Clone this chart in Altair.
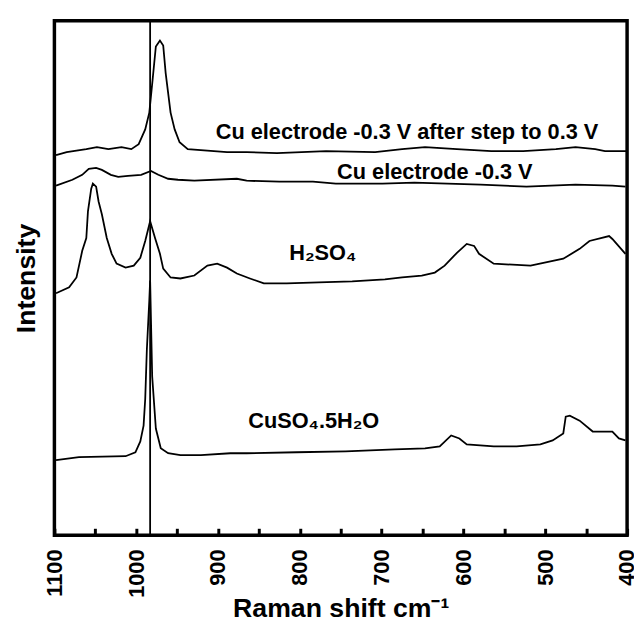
import altair as alt
import pandas as pd

# Raman shift (cm-1) and intensity (arbitrary units)
wn_step = [1098, 1085, 1061, 1048, 1034, 1018, 1006, 997, 989, 984, 980, 976, 971, 967, 964, 958, 953, 947, 937,
           889, 865, 828, 768, 708, 675, 647, 608, 566, 527, 487, 463, 439, 427, 400]
int_step = [370, 373, 376, 378, 376, 378, 376, 381, 396, 413, 446, 480, 486, 481, 453, 413, 396, 383, 376,
            373, 373, 372, 374, 373, 376, 378, 376, 374, 374, 376, 378, 376, 374, 374]

wn_cu = [1098, 1078, 1066, 1058, 1049, 1042, 1031, 1022, 1010, 994, 982, 973, 961, 949, 929, 877, 865, 825, 784,
         756, 699, 660, 579, 523, 463, 418, 402]
int_cu = [339, 345, 350, 356, 357, 355, 350, 348, 349, 350, 354, 350, 346, 345, 344, 346, 344, 343, 343,
          341, 341, 342, 340, 338, 340, 339, 338]

wn_h2so4 = [1098, 1082, 1073, 1066, 1061, 1059, 1055, 1053, 1049, 1046, 1042, 1036, 1030, 1024, 1013, 1003, 995,
            989, 983, 977, 971, 967, 958, 946, 929, 913, 901, 889, 877, 861, 844, 816, 777, 736, 696, 675, 651,
            635, 623, 608, 596, 587, 581, 563, 518, 478, 458, 446, 422, 418, 402]
int_h2so4 = [230, 236, 246, 273, 286, 313, 336, 341, 338, 323, 310, 286, 270, 260, 256, 258, 266,
             283, 303, 286, 270, 255, 246, 245, 248, 258, 260, 256, 250, 245, 240, 240, 241, 242, 244, 246, 248,
             251, 258, 271, 280, 278, 270, 260, 258, 265, 275, 283, 288, 285, 270]

wn_cuso4 = [1098, 1070, 1013, 1001, 995, 991, 989, 987, 984, 983, 980.5, 976, 970, 961, 946, 921, 885, 865, 804,
            744, 684, 647, 629, 615, 605, 596, 563, 535, 506, 491, 478, 475, 470, 458, 442, 418, 410, 402]
int_cuso4 = [61, 64, 65, 69, 80, 96, 123, 173, 223, 243, 146, 93, 73, 68, 66, 66, 68, 68, 69,
             70, 72, 73, 75, 86, 83, 77, 75, 75, 77, 81, 88, 105, 106, 101, 90, 90, 83, 81]

marker_wn = [983]

label_text = ["Cu electrode -0.3 V after step to 0.3 V", "Cu electrode -0.3 V", "H\u2082SO\u2084",
              "CuSO\u2084.5H\u2082O"]
label_wn = [669, 635, 772, 783]
label_int = [393, 353, 271, 101]

tick_vals = [1100, 1050, 1000, 950, 900, 850, 800, 750, 700, 650, 600, 550, 500, 450, 400]

frames = []
for name, w, i in [("step", wn_step, int_step), ("cu", wn_cu, int_cu),
                   ("h2so4", wn_h2so4, int_h2so4), ("cuso4", wn_cuso4, int_cuso4)]:
    frames.append(pd.DataFrame({"series": name, "wn": w, "inten": i}))
spectra = pd.DataFrame(pd.concat(frames, ignore_index=True))
marker = pd.DataFrame({"wn": marker_wn})
labels = pd.DataFrame({"wn": label_wn, "inten": label_int, "text": label_text})

FONT = "Liberation Sans"

x_enc = alt.X(
    "wn:Q",
    scale=alt.Scale(domain=[400, 1100], reverse=True, nice=False, zero=False),
    axis=alt.Axis(
        values=tick_vals, format="d",
        labelExpr="datum.value % 100 === 0 ? datum.label : ''",
        tickSize=7, tickWidth=3, tickColor="black", domain=False, offset=-7, grid=False,
        labelAngle=270, labelAlign="right", labelBaseline="middle", labelPadding=14,
        labelFontSize=22, labelFont=FONT, labelFontWeight="bold", labelColor="black",
        labelFlush=False, labelOverlap=False,
        title="Raman shift cm\u207b\u00b9", titleFont=FONT, titleFontSize=27, titleFontWeight="bold",
        titleColor="black", titleBaseline="alphabetic", titleY=89,
    ),
)
y_enc = alt.Y(
    "inten:Q",
    scale=alt.Scale(domain=[-15, 506], nice=False, zero=False),
    axis=alt.Axis(labels=False, ticks=False, domain=False, grid=False, title="Intensity",
                  titleFont=FONT, titleFontSize=27, titleFontWeight="bold", titleColor="black",
                  titlePadding=14),
)

lines = alt.Chart(spectra).mark_line(color="black", strokeWidth=1.8, clip=True).encode(
    x=x_enc, y=y_enc, detail="series:N"
)
rule = alt.Chart(marker).mark_rule(color="black", strokeWidth=1.8).encode(x=x_enc)
texts = alt.Chart(labels).mark_text(font=FONT, fontSize=22, fontWeight="bold", color="black",
                                    align="center", baseline="middle").encode(
    x=x_enc, y=y_enc, text="text:N"
)

chart = alt.layer(lines, rule, texts).properties(
    width=580, height=521,
    autosize=alt.AutoSizeParams(type="none"),
    padding={"left": 47, "top": 9, "right": 7, "bottom": 86},
).configure(background="white").configure_view(stroke="black", strokeWidth=3.5)

chart.save("out.html", embed_options={"renderer": "svg", "actions": False})
